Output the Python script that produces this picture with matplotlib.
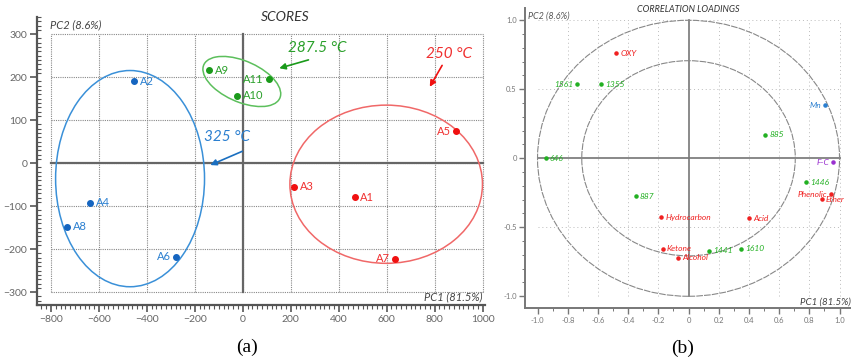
import matplotlib
matplotlib.use("Agg")
import matplotlib.pyplot as plt
from matplotlib.patches import Ellipse, Circle
from matplotlib.ticker import MultipleLocator, FuncFormatter

plt.rcParams['font.family'] = ['Lato', 'DejaVu Sans']

# scores plot (a)
score_names = ['A1', 'A2', 'A3', 'A4', 'A5', 'A6', 'A7', 'A8', 'A9', 'A10', 'A11']
score_pc1 = [466, -452, 215, -636, 891, -277, 635, -732, -139, -24, 109]
score_pc2 = [-79, 191, -55, -92, 74, -218, -222, -148, 216, 157, 195]
score_group = ['250', '325', '250', '325', '250', '325', '250', '325', '287', '287', '287']

# confidence ellipses: group, centre x, centre y, width, height, angle
ellipse_groups = ['325', '287', '250']
ellipse_cx = [-470, -4, 598]
ellipse_cy = [-36, 190, -49]
ellipse_w = [621, 330, 803]
ellipse_h = [503, 100, 368]
ellipse_ang = [0, -11, 0]

# loadings plot (b)
load_names = ['OXY', '1561', '1355', '646', 'Mn', '885', 'F-C', '887', 'Hydrocarbon',
              'Ketone', 'Alcohol', '1441', '1610', 'Acid', '1446', 'Phenolic', 'Ether']
load_pc1 = [-0.48, -0.736, -0.58, -0.946, 0.906, 0.509, 0.959, -0.35, -0.182,
            -0.171, -0.068, 0.138, 0.35, 0.40, 0.776, 0.944, 0.882]
load_pc2 = [0.76, 0.538, 0.538, 0.0, 0.386, 0.171, -0.029, -0.275, -0.427,
            -0.657, -0.722, -0.67, -0.657, -0.433, -0.172, -0.261, -0.297]
load_kind = ['red', 'green', 'green', 'green', 'blue', 'green', 'purple', 'green', 'red',
             'red', 'red', 'green', 'green', 'red', 'green', 'red', 'red']

pt_col = {'250': '#f01010', '287': '#1a9a1a', '325': '#1565c0'}
txt_col = {'250': '#f03030', '287': '#2aa02a', '325': '#2a7fd0'}
ell_col = {'250': '#f06868', '287': '#5cbf5c', '325': '#3a90d8'}
kind_col = {'red': '#f02020', 'green': '#22b022', 'blue': '#2a7fd0', 'purple': '#9a30d0'}

fig = plt.figure(figsize=(8.51, 3.61), dpi=100)

# ---------------- (a) ----------------
ax = fig.add_axes([0.0435, 0.1551, 0.5264, 0.7978])
ax.set_xlim(-858, 1010)
ax.set_ylim(-330, 340)
for s in ['top', 'right']:
    ax.spines[s].set_visible(False)
for s in ['left', 'bottom']:
    ax.spines[s].set_color('#555555')
    ax.spines[s].set_linewidth(1.6)

# dotted grid box
for gx in range(-800, 1001, 200):
    ax.plot([gx, gx], [-300, 300], color='#888888', lw=0.8, ls=(0, (1, 1)), zorder=1)
for gy in range(-300, 301, 100):
    ax.plot([-800, 1000], [gy, gy], color='#888888', lw=0.8, ls=(0, (1, 1)), zorder=1)
ax.plot([-800, 1000], [0, 0], color='#666666', lw=1.6, zorder=2)
ax.plot([0, 0], [-300, 300], color='#666666', lw=1.6, zorder=2)

ax.xaxis.set_minor_locator(MultipleLocator(20))
ax.yaxis.set_minor_locator(MultipleLocator(10))
ax.set_xticks(range(-800, 1001, 200))
ax.set_yticks(range(-300, 301, 100))
ax.tick_params(which='major', length=5, width=1.2, color='#555555', labelsize=7.5,
               labelcolor='#666666', pad=2)
ax.tick_params(which='minor', length=3, width=0.8, color='#555555')
ax.tick_params(axis='y', which='minor', direction='in')

for name, x, y, g in zip(score_names, score_pc1, score_pc2, score_group):
    ax.scatter(x, y, s=16, color=pt_col[g], zorder=4)
    left = name in ('A11', 'A5', 'A7', 'A6')
    ax.annotate(name, (x, y), xytext=(-4 if left else 4, 0), textcoords='offset points',
                ha='right' if left else 'left', va='center', fontsize=8,
                color=txt_col[g])

for g, cx, cy, w, h, a in zip(ellipse_groups, ellipse_cx, ellipse_cy, ellipse_w, ellipse_h, ellipse_ang):
    ax.add_patch(Ellipse((cx, cy), w, h, angle=a, fill=False, ec=ell_col[g], lw=1.1, zorder=3))

ax.text(176, 340, 'SCORES', style='italic', fontsize=10, color='#333333', ha='center', va='center')
ax.text(-805, 323, 'PC2 (8.6%)', style='italic', fontsize=8, color='#444444', ha='left', va='center')
ax.text(1000, -312, 'PC1 (81.5%)', style='italic', fontsize=8, color='#444444', ha='right', va='center')

ax.annotate('', xy=(141, 219), xytext=(285, 242),
            arrowprops=dict(arrowstyle='-|>', color=pt_col['287'], lw=1.2, mutation_scale=9))
ax.text(310, 268, '287.5 °C', style='italic', fontsize=11, color=txt_col['287'], ha='center', va='center')
ax.annotate('', xy=(774, 172), xytext=(837, 233),
            arrowprops=dict(arrowstyle='-|>', color=pt_col['250'], lw=1.2, mutation_scale=9))
ax.text(860, 255, '250 °C', style='italic', fontsize=11, color=txt_col['250'], ha='center', va='center')
ax.annotate('', xy=(-146, -7), xytext=(8, 30),
            arrowprops=dict(arrowstyle='-|>', color='#1a6fc0', lw=1.2, mutation_scale=9))
ax.text(-67, 60, '325 °C', style='italic', fontsize=11, color=txt_col['325'], ha='center', va='center')

# ---------------- (b) ----------------
bx = fig.add_axes([0.6169, 0.1460, 0.3831, 0.8319])
bx.set_xlim(-1.083, 1.076)
bx.set_ylim(-1.087, 1.089)
for s in ['top', 'right']:
    bx.spines[s].set_visible(False)
for s in ['left', 'bottom']:
    bx.spines[s].set_color('#777777')
    bx.spines[s].set_linewidth(1.4)

for gx in [-0.8, -0.6, -0.4, -0.2, 0.2, 0.4, 0.6, 0.8, 1.0]:
    bx.plot([gx, gx], [-1, 1], color='#bbbbbb', lw=0.7, ls=(0, (1, 3)), zorder=1)
for gy in [-0.5, 0.5, 1.0]:
    bx.plot([-1, 1], [gy, gy], color='#bbbbbb', lw=0.7, ls=(0, (1, 3)), zorder=1)
bx.plot([-1.0, 1.0], [0, 0], color='#888888', lw=1.4, zorder=2)
bx.plot([0, 0], [-1.0, 1.0], color='#777777', lw=1.2, zorder=2)
bx.add_patch(Circle((0, 0), 1.0, fill=False, ec='#888888', lw=0.8, ls=(0, (6, 1)), zorder=2))
bx.add_patch(Circle((0, 0), 0.707, fill=False, ec='#888888', lw=0.8, ls=(0, (6, 1)), zorder=2))

bx.set_xticks([-1.0, -0.8, -0.6, -0.4, -0.2, 0, 0.2, 0.4, 0.6, 0.8, 1.0])
bx.set_yticks([-1.0, -0.5, 0, 0.5, 1.0])
bx.xaxis.set_minor_locator(MultipleLocator(0.1))
bx.yaxis.set_minor_locator(MultipleLocator(0.1))
fmt = FuncFormatter(lambda v, p: '0' if abs(v) < 1e-9 else f'{v:.1f}')
bx.xaxis.set_major_formatter(fmt)
bx.yaxis.set_major_formatter(fmt)
bx.tick_params(which='major', length=4, width=1.0, color='#777777', labelsize=5.5,
               labelcolor='#777777', pad=2)
bx.tick_params(which='minor', length=2, width=0.7, color='#777777')

left_names = ('1561', 'Mn', 'F-C', 'Phenolic')
for name, x, y, k in zip(load_names, load_pc1, load_pc2, load_kind):
    bx.scatter(x, y, s=5, color=kind_col[k], zorder=4)
    left = name in left_names
    bx.annotate(name, (x, y), xytext=(-3 if left else 3, 0), textcoords='offset points',
                ha='right' if left else 'left', va='center', fontsize=6, style='italic',
                color=kind_col[k])

bx.text(0.0, 1.075, 'CORRELATION LOADINGS', style='italic', fontsize=6.5, color='#333333',
        ha='center', va='center')
bx.text(-1.06, 1.03, 'PC2 (8.6%)', style='italic', fontsize=6.5, color='#555555', ha='left', va='center')
bx.text(1.076, -1.04, 'PC1 (81.5%)', style='italic', fontsize=7, color='#444444', ha='right', va='center')

fig.text(247 / 851, 1 - 347 / 361, '(a)', family='Liberation Serif', fontsize=14, ha='center', va='center')
fig.text(683 / 851, 1 - 348 / 361, '(b)', family='Liberation Serif', fontsize=14, ha='center', va='center')

fig.savefig('out.png', dpi=100)
